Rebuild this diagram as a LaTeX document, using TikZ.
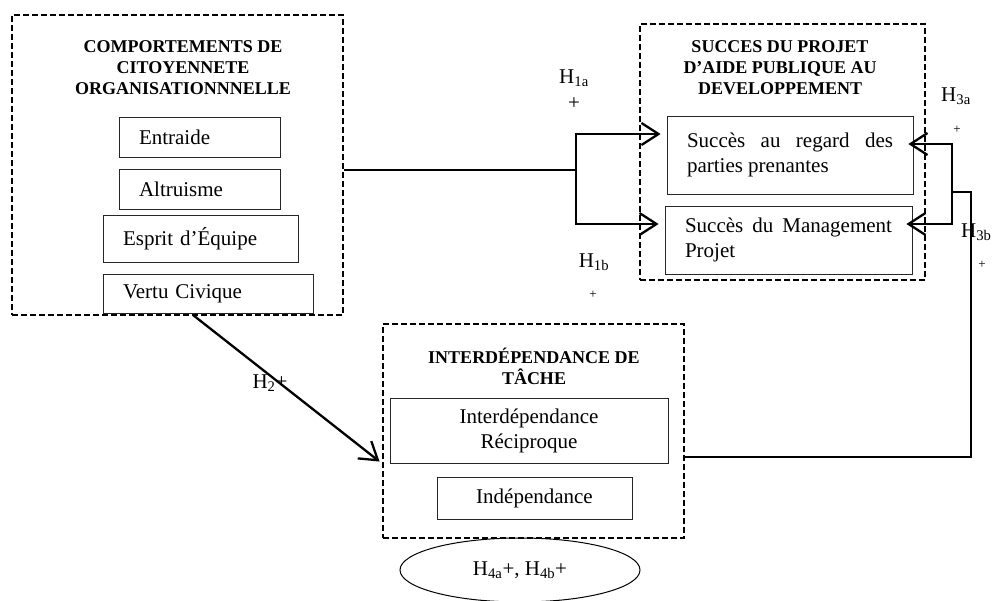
\documentclass[tikz,border=0pt]{standalone}
\usepackage{fontspec}
\setmainfont{Liberation Serif}
\usetikzlibrary{arrows.meta, shapes.geometric}
\tikzset{
  groupbox/.style={draw=black, dash pattern=on 6pt off 3pt, line width=2.2pt, inner sep=0pt},
  grouptitle/.style={font=\fontsize{18}{21}\selectfont\bfseries, align=center, inner sep=0pt},
  itembox/.style={draw=black!85, line width=0.8pt, font=\fontsize{21}{25}\selectfont, inner ysep=0pt},
  hyp/.style={font=\fontsize{21}{26}\selectfont, align=center, inner sep=0pt},
  hypsmall/.style={font=\fontsize{13}{15}\selectfont, inner sep=0pt},
  link/.style={draw=black, line width=1.6pt},
  flow/.style={-{Straight Barb[length=17pt, width=22pt]}, draw=black, line width=2.3pt}
}
\begin{document}
\begin{tikzpicture}[x=1pt, y=-1pt]
\useasboundingbox (0,0) rectangle (995,600);
% groups
\node[groupbox, minimum width=331, minimum height=300] (ocb) at (177.5,165) {};
\node[groupbox, minimum width=285, minimum height=256] (succes) at (782.5,152) {};
\node[groupbox, minimum width=301, minimum height=214] (interdep) at (533.5,431) {};
\node[grouptitle] (ocbtitle) at (183,68) {COMPORTEMENTS DE\\CITOYENNETE\\ORGANISATIONNNELLE};
\node[grouptitle] (succestitle) at (780,68) {SUCCES DU PROJET\\D'AIDE PUBLIQUE AU\\DEVELOPPEMENT};
\node[grouptitle] (interdeptitle) at (534,366) {INTERDÉPENDANCE DE\\TÂCHE};
% items
\node[itembox, minimum width=161, minimum height=40, text width=121, inner xsep=20pt, align=left] (entraide) at (199.5,137) {Entraide};
\node[itembox, minimum width=161, minimum height=40, text width=121, inner xsep=20pt, align=left] (altruisme) at (199.5,189) {Altruisme};
\node[itembox, minimum width=195, minimum height=47, text width=155, inner xsep=20pt, align=left] (esprit) at (200.5,238.5) {Esprit d'Équipe};
\node[itembox, minimum width=210, minimum height=39, text width=170, inner xsep=20pt, align=left] (vertu) at (208,293.5) {Vertu Civique};
\node[itembox, minimum width=246, minimum height=78, text width=206, inner xsep=20pt, align=justify] (parties) at (790,155) {Succès au regard des parties prenantes};
\node[itembox, minimum width=247, minimum height=68, text width=207, inner xsep=20pt, align=justify] (mgmt) at (788.5,240) {Succès du Management Projet};
\node[itembox, minimum width=278, minimum height=65, align=center] (recip) at (529,430.5) {Interdépendance\\Réciproque};
\node[itembox, minimum width=195, minimum height=42, align=center] (indep) at (534.5,498) {Indépendance};
\node[ellipse, draw=black, line width=1pt, minimum width=240, minimum height=64, font=\fontsize{21}{25}\selectfont] (moder) at (520,570) {H\textsubscript{4a}+, H\textsubscript{4b}+};
% hypotheses
\node[hyp] (h1a) at (574,90) {H\textsubscript{1a}\\+};
\node[hyp] (h1b) at (594,262) {H\textsubscript{1b}};
\node[hypsmall] (h1bplus) at (593,295) {+};
\node[hyp] (h3a) at (956,96) {H\textsubscript{3a}};
\node[hypsmall] (h3aplus) at (957,130) {+};
\node[hyp, anchor=west] (h3b) at (961,232) {H\textsubscript{3b}};
\node[hypsmall] (h3bplus) at (982,265) {+};
\node[hyp] (h2) at (270,383) {H\textsubscript{2}+};
% connectors
\coordinate (fork) at (576,170);
\coordinate (forkup) at (576,134);
\coordinate (forkdn) at (576,224);
\draw[link] (ocb.east |- fork) -- (fork);
\draw[flow, shorten >=6pt] (fork) -- (forkup) -- (forkup -| parties.west);
\draw[flow, shorten >=6pt] (fork) -- (forkdn) -- (forkdn -| mgmt.west);
\coordinate (rfork) at (952,192);
\coordinate (rup) at (952,144);
\coordinate (rdn) at (952,224);
\coordinate (rturn) at (971,192);
\coordinate (rbot) at (971,457);
\draw[link] (interdep.east |- rbot) -- (rbot) -- (rturn) -- (rfork);
\draw[flow, shorten >=-5pt] (rfork) -- (rup) -- (rup -| parties.east);
\draw[flow, shorten >=-6pt] (rfork) -- (rdn) -- (rdn -| mgmt.east);
\coordinate (h2start) at (193,315);
\draw[flow, shorten >=3pt] (h2start) -- (interdep.west |- recip.south);
\end{tikzpicture}
\end{document}
